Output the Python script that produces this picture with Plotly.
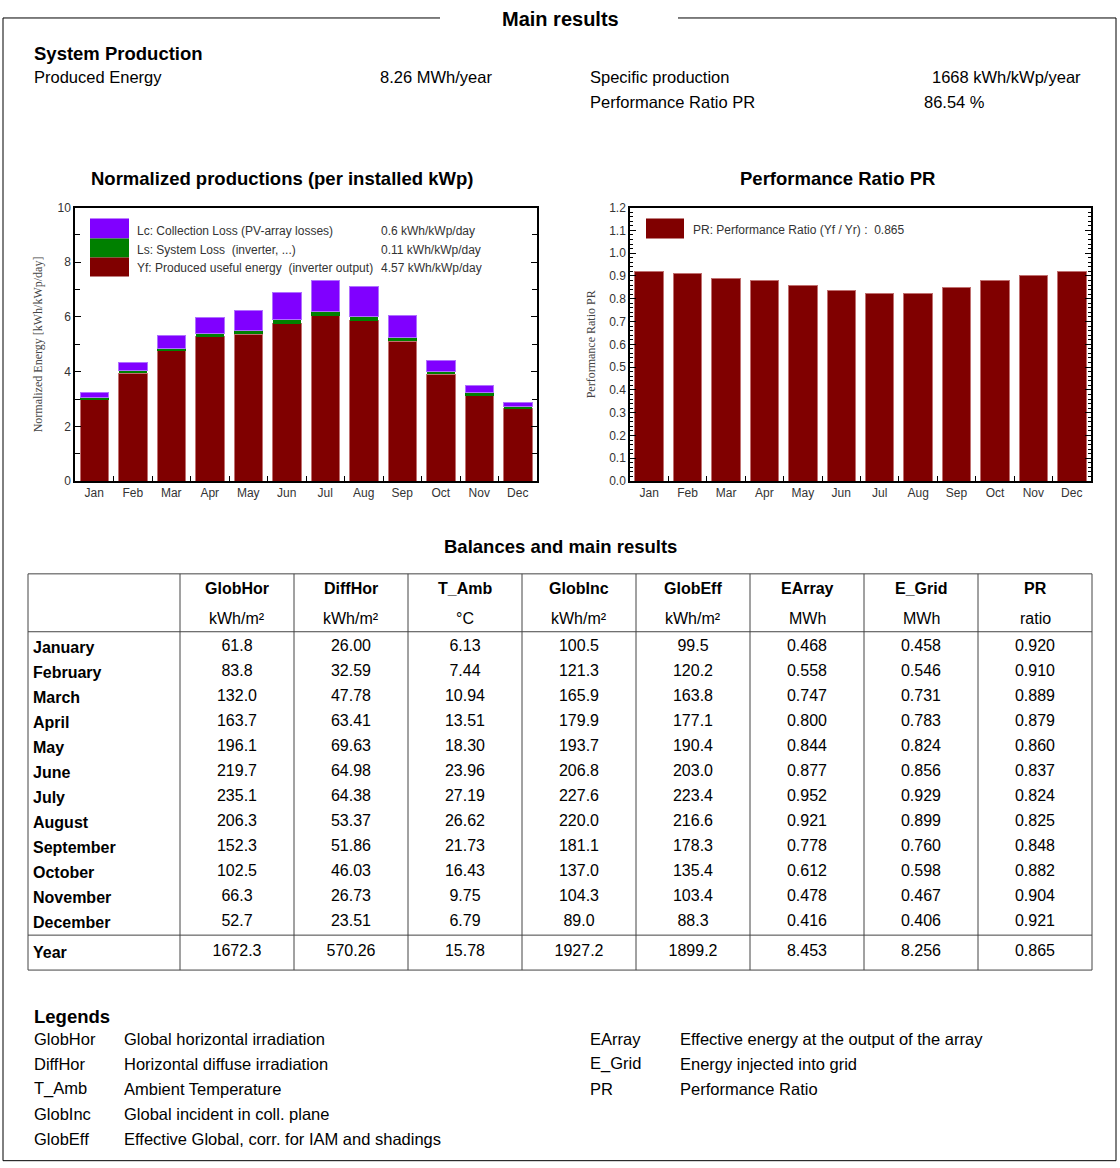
import plotly.graph_objects as go

W, H = 1120, 1168
FONT = "Arial, Liberation Sans, Helvetica, sans-serif"
SERIF = "Liberation Serif, Times New Roman, serif"

month_abbr = ["Jan", "Feb", "Mar", "Apr", "May", "Jun",
              "Jul", "Aug", "Sep", "Oct", "Nov", "Dec"]
month_names = ["January", "February", "March", "April", "May", "June",
               "July", "August", "September", "October", "November", "December"]

# normalized productions, kWh/kWp/day
yf = [2.99, 3.94, 4.76, 5.27, 5.37, 5.76, 6.05, 5.86, 5.12, 3.90, 3.15, 2.65]
ls = [0.07, 0.09, 0.10, 0.11, 0.13, 0.14, 0.15, 0.14, 0.12, 0.09, 0.07, 0.07]
lc = [0.19, 0.31, 0.48, 0.61, 0.75, 0.99, 1.14, 1.10, 0.80, 0.43, 0.26, 0.16]

# table columns
glob_hor = [61.8, 83.8, 132.0, 163.7, 196.1, 219.7, 235.1, 206.3, 152.3, 102.5, 66.3, 52.7]
diff_hor = [26.00, 32.59, 47.78, 63.41, 69.63, 64.98, 64.38, 53.37, 51.86, 46.03, 26.73, 23.51]
t_amb = [6.13, 7.44, 10.94, 13.51, 18.30, 23.96, 27.19, 26.62, 21.73, 16.43, 9.75, 6.79]
glob_inc = [100.5, 121.3, 165.9, 179.9, 193.7, 206.8, 227.6, 220.0, 181.1, 137.0, 104.3, 89.0]
glob_eff = [99.5, 120.2, 163.8, 177.1, 190.4, 203.0, 223.4, 216.6, 178.3, 135.4, 103.4, 88.3]
e_array = [0.468, 0.558, 0.747, 0.800, 0.844, 0.877, 0.952, 0.921, 0.778, 0.612, 0.478, 0.416]
e_grid = [0.458, 0.546, 0.731, 0.783, 0.824, 0.856, 0.929, 0.899, 0.760, 0.598, 0.467, 0.406]
pr = [0.920, 0.910, 0.889, 0.879, 0.860, 0.837, 0.824, 0.825, 0.848, 0.882, 0.904, 0.921]

year_totals = [1672.3, 570.26, 15.78, 1927.2, 1899.2, 8.453, 8.256, 0.865]

col_names = ["GlobHor", "DiffHor", "T_Amb", "GlobInc", "GlobEff", "EArray", "E_Grid", "PR"]
col_units = ["kWh/m²", "kWh/m²", "°C", "kWh/m²", "kWh/m²", "MWh", "MWh", "ratio"]
col_fmt = ["{:.1f}", "{:.2f}", "{:.2f}", "{:.1f}", "{:.1f}", "{:.3f}", "{:.3f}", "{:.3f}"]
col_data = [glob_hor, diff_hor, t_amb, glob_inc, glob_eff, e_array, e_grid, pr]

legend_left = [("GlobHor", "Global horizontal irradiation"),
               ("DiffHor", "Horizontal diffuse irradiation"),
               ("T_Amb", "Ambient Temperature"),
               ("GlobInc", "Global incident in coll. plane"),
               ("GlobEff", "Effective Global, corr. for IAM and shadings")]
legend_right = [("EArray", "Effective energy at the output of the array"),
                ("E_Grid", "Energy injected into grid"),
                ("PR", "Performance Ratio")]

# the snapshot squeezes the page a little vertically; positions below are
# measured on the final picture, so undo that squeeze here
Y_OFF, Y_SCALE = 6, 0.99


def px(x):
    return x / W


def py(y):
    return 1 - ((y - Y_OFF) / Y_SCALE) / H


annotations = []
shapes = []


def text(x, y, s, size=16.5, bold=False, anchor="left", color="black", family=FONT):
    nudge = {"left": -2, "right": 2, "center": 0}[anchor]
    annotations.append(dict(
        x=px(x + nudge), y=py(y), xref="paper", yref="paper", text=f"<b>{s}</b>" if bold else s,
        showarrow=False, xanchor=anchor, yanchor="middle",
        font=dict(size=size, color=color, family=family)))


def line(x0, y0, x1, y1, color="black", width=1):
    shapes.append(dict(type="line", xref="paper", yref="paper",
                       x0=px(x0), y0=py(y0), x1=px(x1), y1=py(y1),
                       line=dict(color=color, width=width)))


def box(x0, y0, x1, y1, fill):
    shapes.append(dict(type="rect", xref="paper", yref="paper",
                       x0=px(x0), y0=py(y0), x1=px(x1), y1=py(y1),
                       fillcolor=fill, line=dict(width=0)))


fig = go.Figure()

# left chart: stacked normalized productions
fig.add_bar(x=month_abbr, y=yf, marker=dict(color="#800000", line=dict(color="#c07070", width=1)),
            xaxis="x", yaxis="y")
fig.add_bar(x=month_abbr, y=ls, marker=dict(color="#008000", line=dict(width=0)),
            xaxis="x", yaxis="y")
fig.add_bar(x=month_abbr, y=lc, marker=dict(color="#8000ff", line=dict(color="#b070ff", width=1)),
            xaxis="x", yaxis="y")

# right chart: performance ratio
fig.add_bar(x=month_abbr, y=pr, marker=dict(color="#800000", line=dict(color="#c07070", width=1)),
            xaxis="x2", yaxis="y2")

# table values
col_edges = [28, 180, 294, 408, 522, 636, 750, 864, 978, 1092]
row_y = [647.5 + 25.05 * i for i in range(12)]
YEAR_Y = 953
for j, vals in enumerate(col_data):
    cx = (col_edges[j + 1] + col_edges[j + 2]) / 2
    fig.add_scatter(
        x=[cx] * 13, y=row_y + [YEAR_Y],
        text=[col_fmt[j].format(v) for v in vals] + [col_fmt[j].format(year_totals[j])],
        mode="text", textposition="middle center",
        textfont=dict(size=16, family=FONT, color="black"),
        hoverinfo="skip", xaxis="x3", yaxis="y3")
    for yy, s, b in [(589, col_names[j], True), (619, col_units[j], False)]:
        annotations.append(dict(x=cx, y=yy, xref="x3", yref="y3", text=f"<b>{s}</b>" if b else s,
                                showarrow=False, font=dict(size=16, family=FONT, color="black")))

for name, yy in zip(month_names + ["Year"], row_y + [YEAR_Y]):
    annotations.append(dict(x=31, y=yy, xref="x3", yref="y3", text=f"<b>{name}</b>",
                            showarrow=False, xanchor="left",
                            font=dict(size=16, family=FONT, color="black")))

TABLE_TOP, TABLE_BOT = 574, 971
tline = dict(color="#444", width=1)
for xe in col_edges:
    shapes.append(dict(type="line", xref="x3", yref="y3", x0=xe, x1=xe,
                       y0=TABLE_TOP, y1=TABLE_BOT, line=tline))
for ye in [TABLE_TOP, 632, 936, TABLE_BOT]:
    shapes.append(dict(type="line", xref="x3", yref="y3", x0=col_edges[0], x1=col_edges[-1],
                       y0=ye, y1=ye, line=tline))

# page frame
line(3, 17, 440, 17)
line(678, 17, 1116, 17)
line(3, 17, 3, 1162)
line(1116, 17, 1116, 1162)
line(3, 1162, 1116, 1162)
text(560, 18, "Main results", size=20, bold=True, anchor="center")

# system production
text(34, 53, "System Production", size=18.5, bold=True)
text(34, 76, "Produced Energy")
text(492, 76, "8.26 MWh/year", anchor="right")
text(590, 76, "Specific production")
text(1081, 76, "1668 kWh/kWp/year", anchor="right")
text(590, 101, "Performance Ratio PR")
text(924, 101, "86.54 %")

# chart titles
text(282, 178, "Normalized productions (per installed kWp)", size=18.5, bold=True, anchor="center")
text(837, 178, "Performance Ratio PR", size=18.5, bold=True, anchor="center")
for xx, s in [(38, "Normalized Energy [kWh/kWp/day]"), (591, "Performance Ratio PR")]:
    annotations.append(dict(x=px(xx), y=py(344), xref="paper", yref="paper",
                            text=s, textangle=-90, showarrow=False,
                            xanchor="center", yanchor="middle",
                            font=dict(size=12, family=SERIF, color="#444")))

# left chart legend
box(90, 218, 129, 238, "#8000ff")
box(90, 238, 129, 257, "#008000")
box(90, 257, 129, 276, "#800000")
lg = [("Lc: Collection Loss (PV-array losses)", "0.6 kWh/kWp/day", 230),
      ("Ls: System Loss  (inverter, ...)", "0.11 kWh/kWp/day", 249),
      ("Yf: Produced useful energy  (inverter output)", "4.57 kWh/kWp/day", 268)]
for lab, val, yy in lg:
    text(137, yy, lab.replace("  ", "&nbsp; "), size=12, color="#333")
    text(381, yy, val, size=12, color="#333")

# right chart legend
box(646, 218, 684, 238, "#800000")
text(693, 229, "PR: Performance Ratio (Yf / Yr) :&nbsp; 0.865", size=12, color="#333")

# balances title
text(560, 547, "Balances and main results", size=18.5, bold=True, anchor="center")

# legends section
text(34, 1018, "Legends", size=18.5, bold=True)
for i, (k, d) in enumerate(legend_left):
    text(34, 1040 + 25 * i, k)
    text(124, 1040 + 25 * i, d)
for i, (k, d) in enumerate(legend_right):
    text(590, 1040 + 25 * i, k)
    text(680, 1040 + 25 * i, d)

tickfont = dict(size=12, family=FONT, color="#333")
xcommon = dict(showline=True, linecolor="black", linewidth=1.5, mirror=True,
               ticks="inside", tickson="boundaries", ticklen=5, tickcolor="black",
               tickfont=tickfont, showgrid=False)
ycommon = dict(showline=True, linecolor="black", linewidth=1.5, mirror="ticks",
               ticks="inside", ticklen=6, tickcolor="black", tickfont=tickfont,
               showgrid=False, zeroline=False)

fig.update_layout(
    width=W, height=H,
    margin=dict(l=0, r=0, t=0, b=0),
    paper_bgcolor="white", plot_bgcolor="white",
    showlegend=False, barmode="stack", bargap=0.26,
    font=dict(family=FONT),
    xaxis=dict(domain=[px(75), px(537)], anchor="y", **xcommon),
    yaxis=dict(domain=[py(481), py(207)], anchor="x", range=[0, 10], dtick=2,
               minor=dict(dtick=1, ticks="inside", ticklen=5, tickcolor="black"), **ycommon),
    xaxis2=dict(domain=[px(630), px(1091)], anchor="y2", **xcommon),
    yaxis2=dict(domain=[py(481), py(207)], anchor="x2", range=[0, 1.2], dtick=0.1,
                tickformat=".1f",
                minor=dict(dtick=0.02, ticks="inside", ticklen=3, tickcolor="black"), **ycommon),
    xaxis3=dict(domain=[px(20), px(1100)], anchor="y3", range=[20, 1100], visible=False),
    yaxis3=dict(domain=[py(980), py(565)], anchor="x3", range=[980, 565], visible=False),
    annotations=annotations,
    shapes=shapes,
)

fig.write_html("out.html", config={"displayModeBar": False},
               post_script="document.body.style.margin='0';")
